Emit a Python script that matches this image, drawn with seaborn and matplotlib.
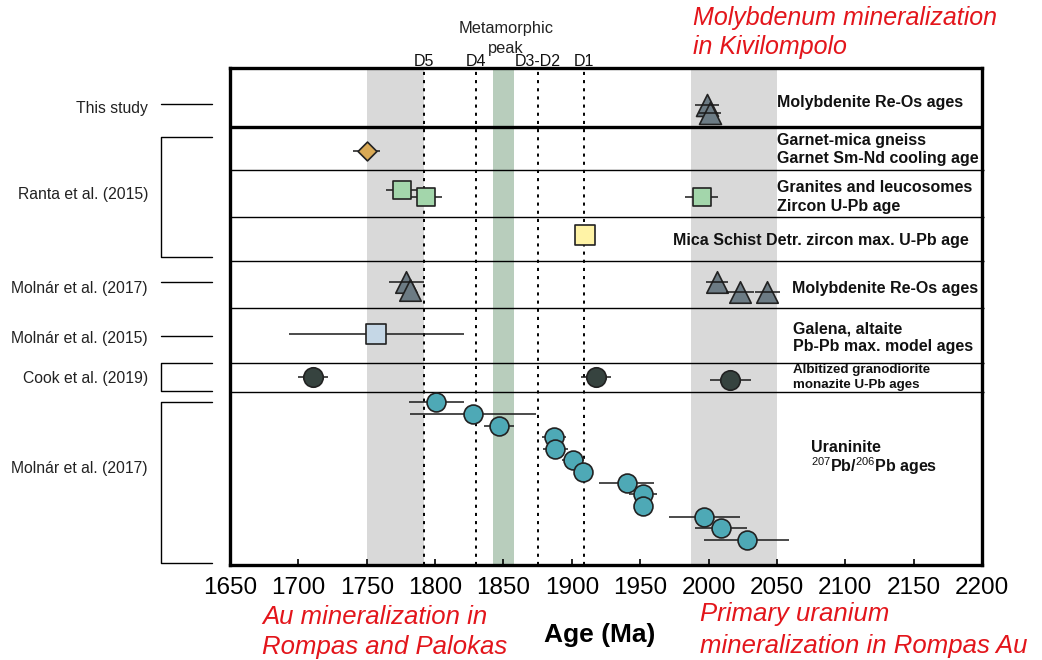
import matplotlib
matplotlib.use("Agg")
import matplotlib.pyplot as plt
import seaborn as sns
import pandas as pd

sns.set_theme(style="white")
plt.rcParams["font.family"] = ["Liberation Sans", "DejaVu Sans"]
plt.rcParams["mathtext.fontset"] = "custom"
plt.rcParams["mathtext.rm"] = "Liberation Sans"
plt.rcParams["mathtext.bf"] = "Liberation Sans:bold"

# ---- Geochronology data: ages (Ma), uncertainties (Ma), lane position in panel ----
this_study_age = [1999, 2001]
this_study_err = [9, 8]
this_study_y = [37, 45]

garnet_age = [1750]
garnet_err = [10]
garnet_y = [83]

granite_age = [1776, 1793, 1995]
granite_err = [12, 12, 12]
granite_y = [122, 129, 129]

schist_age = [1910]
schist_err = [0]
schist_y = [167]

mo2017_age = [1779, 1782, 2006, 2023, 2043]
mo2017_err = [13, 0, 8, 10, 9]
mo2017_y = [214, 222, 214, 224, 224]

galena_age = [1757]
galena_err = [64]
galena_y = [266]

monazite_age = [1711, 1918, 2016]
monazite_err = [11, 11, 15]
monazite_y = [309, 309, 312]

uraninite_age = [1801, 1828, 1847, 1887, 1888, 1901, 1908, 1940, 1952, 1952, 1997, 2009, 2028]
uraninite_err = [20, 46, 11, 9, 9, 8, 5, 20, 10, 0, 26, 19, 31]
uraninite_y = [334, 346, 358, 369, 381, 392, 404, 415, 426, 438, 449, 460, 472]

# deformation phases and shaded intervals
phase_names = ["D5", "D4", "D3-D2", "D1"]
phase_ages = [1792, 1830, 1875, 1909]
au_window = (1750, 1792)
u_window = (1987, 2050)
peak_window = (1842.5, 1857.5)

xticks = list(range(1650, 2201, 50))

# panel row boundaries (lane units, 0 = top of frame)
row_lines = [102, 149, 193, 240, 295, 324]
study_box_bottom = 59
panel_depth = 497

# reference column on the left: (label, label_y, bracket_top, bracket_bottom)
references = [
    ("This study", 40, 36, None),
    ("Ranta et al. (2015)", 127, 69, 189),
    ("Molnár et al. (2017)", 220, 214, None),
    ("Molnár et al. (2015)", 271, 268, None),
    ("Cook et al. (2019)", 311, 295, 323),
    ("Molnár et al. (2017)", 401, 334, 495),
]
# horizontal placement of that column, in age units left of the frame
ref_text_x = 1590
bracket_x0, bracket_x1 = 1599.5, 1636.8

# ---- figure ----
W, H = 1042, 660
fig = plt.figure(figsize=(W / 100, H / 100), dpi=100)
ax = fig.add_axes([230 / W, (H - 565) / H, 752 / W, 497 / H])

gray = "#d9d9d9"
ax.axvspan(*au_window, color=gray, lw=0, zorder=0)
ax.axvspan(*u_window, color=gray, lw=0, zorder=0)
ax.axvspan(*peak_window, color="#b8cdbc", lw=0, zorder=0)

for a, name in zip(phase_ages, phase_names):
    ax.axvline(a, color="black", lw=1.4, ls=(0, (1.6, 2.6)), zorder=1)
    ax.text(a, -7, name, ha="center", va="center", fontsize=11.5, color="#111111", clip_on=False)

ax.text(1852, -39, "Metamorphic", ha="center", va="center", fontsize=11.8, color="#222222")
ax.text(1852, -20, "peak", ha="center", va="center", fontsize=11.8, color="#222222")

for yl in row_lines:
    ax.hlines(yl, 1650, 2201.5, color="black", lw=1.0, zorder=2, clip_on=False)
ax.axhline(study_box_bottom, color="black", lw=2.4, zorder=2)

edge = "#222222"
groups = [
    (garnet_age, garnet_err, garnet_y, "D", 92, "#d9a955", False),
    (granite_age, granite_err, granite_y, "s", 160, "#a3d6ab", False),
    (schist_age, schist_err, schist_y, "s", 200, "#fff3a6", False),
    (galena_age, galena_err, galena_y, "s", 196, "#c5d7e6", False),
    (monazite_age, monazite_err, monazite_y, "o", 196, "#36433f", False),
    (uraninite_age, uraninite_err, uraninite_y, "o", 185, "#4ea9b6", False),
    (this_study_age, this_study_err, this_study_y, "^", 250, "#6c7b84", True),
    (mo2017_age, mo2017_err, mo2017_y, "^", 240, "#6c7b84", True),
]
for ages, errs, ys, mk, size, col, bars_on_top in groups:
    df = pd.DataFrame({"age": ages, "err": errs, "y": ys})
    bars = df[df["err"] > 0]
    ax.hlines(bars["y"], bars["age"] - bars["err"], bars["age"] + bars["err"],
              color="#1a1a1a", lw=1.1, zorder=6 if bars_on_top else 3)
    sns.scatterplot(data=df, x="age", y="y", marker=mk, s=size, color=col,
                    edgecolor=edge, linewidth=1.2, zorder=5, ax=ax, legend=False)

ax.set_xlim(1650, 2200)
ax.set_ylim(panel_depth, 0)

# dataset descriptions inside the panel
lbl = dict(fontsize=11.5, fontweight="bold", color="#111111", va="center")
ax.text(2050, 35, "Molybdenite Re-Os ages", **lbl)
ax.text(2050, 73, "Garnet-mica gneiss", **lbl)
ax.text(2050, 91, "Garnet Sm-Nd cooling age", **lbl)
ax.text(2050, 120, "Granites and leucosomes", **lbl)
ax.text(2050, 138, "Zircon U-Pb age", **lbl)
ax.text(1974, 173, "Mica Schist Detr. zircon max. U-Pb age", **lbl)
ax.text(2061, 220, "Molybdenite Re-Os ages", **lbl)
ax.text(2062, 261, "Galena, altaite", **lbl)
ax.text(2062, 279, "Pb-Pb max. model ages", **lbl)
ax.text(2062, 302, "Albitized granodiorite", fontsize=9.6, fontweight="bold", color="#111111", va="center")
ax.text(2062, 317, "monazite U-Pb ages", fontsize=9.6, fontweight="bold", color="#111111", va="center")
ax.text(2075, 380, "Uraninite", **lbl)
ax.text(2075, 398, r"$^{207}$Pb/$^{206}$Pb ages", **lbl)

# reference brackets on the left
for name, ty, top, bottom in references:
    ax.text(ref_text_x, ty, name, ha="right", va="center", fontsize=11.3,
            color="#222222", clip_on=False)
    if bottom is None:
        ax.plot([bracket_x0, bracket_x1], [top, top], color="black", lw=1.0,
                clip_on=False, scalex=False, scaley=False)
    else:
        ax.plot([bracket_x1, bracket_x0, bracket_x0, bracket_x1], [top, top, bottom, bottom],
                color="black", lw=1.0, clip_on=False, scalex=False, scaley=False)

# mineralization annotations
red = "#e3151b"
ann = dict(fontsize=18.5, style="italic", color=red, va="center", ha="left", clip_on=False)
ax.text(1988.5, -50, "Molybdenum mineralization", fontsize=18, style="italic", color=red,
        va="center", ha="left", clip_on=False)
ax.text(1988.5, -21, "in Kivilompolo", fontsize=18, style="italic", color=red,
        va="center", ha="left", clip_on=False)
ax.text(1673.5, 549, "Au mineralization in", **ann)
ax.text(1673.5, 579, "Rompas and Palokas", **ann)
ax.text(1993.5, 546, "Primary uranium", **ann)
ax.text(1993.5, 578, "mineralization in Rompas Au", **ann)

ax.text(1920.5, 567, "Age (Ma)", fontsize=19, fontweight="bold", color="black",
        ha="center", va="center", clip_on=False)

# axes styling
ax.set_xlim(1650, 2200)
ax.set_ylim(panel_depth, 0)
ax.set_xticks(xticks)
ax.set_xticklabels([str(t) for t in xticks])
ax.set_yticks([])
ax.set_xlabel("")
ax.set_ylabel("")
ax.tick_params(axis="x", direction="in", length=4, width=1.2, pad=9,
               labelsize=17.5, colors="black", bottom=True)
for s in ax.spines.values():
    s.set_linewidth(2.4)
    s.set_color("black")
    s.set_visible(True)

fig.savefig("out.png", dpi=100, facecolor="white")
